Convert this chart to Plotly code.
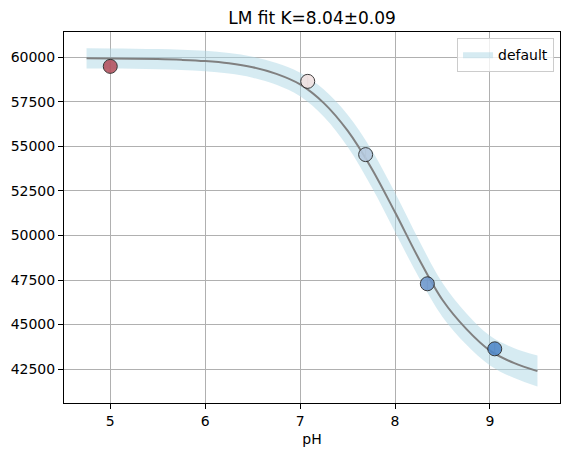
import plotly.graph_objects as go

# ---- data ----
ph_points = [5.00, 7.08, 7.69, 8.34, 9.05]
signal_points = [59490, 58650, 54540, 47290, 43640]
signal_err = [330, 330, 330, 330, 330]
point_colors = ["#b3505d", "#f2e2e2", "#b6cadf", "#6f98cd", "#4f87c8"]

ph_fit = [4.75, 5.00, 5.25, 5.50, 5.75, 6.00, 6.25, 6.50, 6.75, 7.00,
          7.25, 7.50, 7.75, 8.00, 8.25, 8.50, 8.75, 9.00, 9.25, 9.50]
signal_fit = [59940, 59933, 59920, 59898, 59857, 59790, 59665, 59445, 59070, 58480,
              57430, 55880, 53790, 51300, 48700, 46380, 44760, 43540, 42850, 42390]
band_half = [565, 565, 565, 565, 570, 575, 580, 590, 610, 660,
             760, 900, 1040, 1100, 1050, 950, 880, 830, 840, 870]

x_ticks = [5, 6, 7, 8, 9]
x_tick_labels = ["5", "6", "7", "8", "9"]
y_ticks = [42500, 45000, 47500, 50000, 52500, 55000, 57500, 60000]
y_tick_labels = ["42500", "45000", "47500", "50000", "52500", "55000", "57500", "60000"]

title_text = "LM fit K=8.04±0.09"
x_label = "pH"
band_name = "default"

# ---- figure ----
upper = [s + h for s, h in zip(signal_fit, band_half)]
lower = [s - h for s, h in zip(signal_fit, band_half)]
band_fill = "rgba(173,216,230,0.5)"

fig = go.Figure()
fig.add_trace(go.Scatter(
    x=ph_fit, y=upper, mode="lines",
    line=dict(width=0, color=band_fill, shape="spline"),
    showlegend=False, hoverinfo="skip",
))
fig.add_trace(go.Scatter(
    x=ph_fit, y=lower, mode="lines", fill="tonexty",
    fillcolor=band_fill,
    line=dict(width=0, color=band_fill, shape="spline"),
    name=band_name, hoverinfo="skip",
))
fig.add_trace(go.Scatter(
    x=ph_fit, y=signal_fit, mode="lines",
    line=dict(color="#808080", width=2, shape="spline"),
    showlegend=False,
))
fig.add_trace(go.Scatter(
    x=ph_points, y=signal_points, mode="markers",
    marker=dict(size=14, color=point_colors, opacity=0.88,
                line=dict(color="#222222", width=1)),
    error_y=dict(type="data", array=signal_err, visible=True,
                 color="#aaaaaa", thickness=1, width=0),
    showlegend=False,
))

font_family = "DejaVu Sans"
fig.update_layout(
    width=569, height=455,
    margin=dict(l=64, r=9, t=32, b=52),
    paper_bgcolor="white", plot_bgcolor="white",
    font=dict(family=font_family, size=14, color="black"),
    title=dict(text=title_text, x=0.5, xref="paper", xanchor="center",
               y=1 - 18 / 455, yref="container", yanchor="middle",
               font=dict(size=17, color="black", family=font_family)),
    legend=dict(x=0.988, y=0.985, xanchor="right", yanchor="top",
                bgcolor="rgba(255,255,255,0.8)", bordercolor="#cccccc",
                borderwidth=1, font=dict(size=14)),
    showlegend=True,
)
fig.update_xaxes(
    range=[4.5125, 9.7375], tickvals=x_ticks, ticktext=x_tick_labels,
    showgrid=True, gridcolor="#b0b0b0", gridwidth=1,
    showline=True, linecolor="black", linewidth=1, mirror=True,
    ticks="outside", ticklen=5, tickcolor="black", tickwidth=1,
    zeroline=False,
    title=dict(text=x_label, standoff=6, font=dict(size=14)),
)
fig.update_yaxes(
    range=[40600, 61420], tickvals=y_ticks, ticktext=y_tick_labels,
    showgrid=True, gridcolor="#b0b0b0", gridwidth=1,
    showline=True, linecolor="black", linewidth=1, mirror=True,
    ticks="outside", ticklen=5, tickcolor="black", tickwidth=1,
    zeroline=False,
)

fig.write_html("out.html")
